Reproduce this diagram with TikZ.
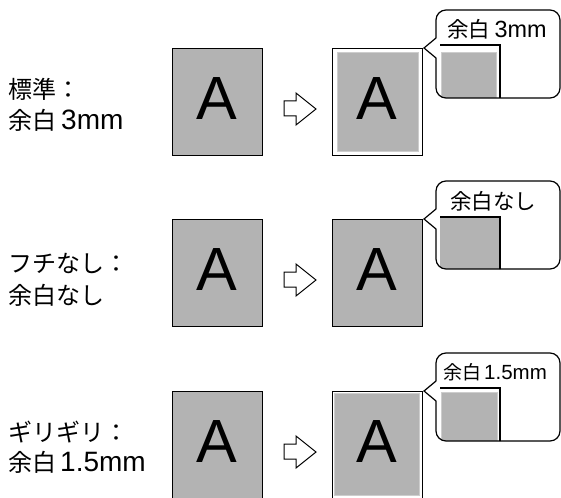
\documentclass[tikz,border=0pt]{standalone}
\usepackage{fontspec}
\setmainfont{Liberation Sans}
\newfontfamily\cjk{Noto Sans CJK JP}
\definecolor{pgray}{RGB}{179,179,179}
\definecolor{lgray}{RGB}{205,205,205}
\newcommand{\jL}{\cjk\fontsize{24}{28}\selectfont}
\newcommand{\eL}{\rmfamily\fontsize{28}{28}\selectfont}
\newcommand{\jC}{\cjk\fontsize{21.5}{26}\selectfont}
\newcommand{\eC}{\rmfamily\fontsize{23.4}{26}\selectfont}
\newcommand{\jS}{\cjk\fontsize{19}{24}\selectfont}
\newcommand{\eS}{\rmfamily\fontsize{20.5}{24}\selectfont}
\begin{document}
\begin{tikzpicture}[x=1pt,y=-1pt,
  page/.style={draw=black, line width=1.3pt, fill=pgray, minimum width=90pt, minimum height=107pt, inner sep=0pt, anchor=north west},
  wpage/.style={page, fill=white},
  letter/.style={font=\rmfamily\fontsize{61}{61}\selectfont, inner sep=0pt},
  lbl/.style={anchor=base west, inner sep=0pt},
  arrowshape/.style={draw=black, line width=1pt, fill=white, line join=miter},
  callbox/.style={rounded corners=10pt},
  inner/.style={fill=pgray, draw=lgray, line width=0.8pt},
  ell/.style={draw=black, line width=1.2pt}
]
\useasboundingbox (0,0) rectangle (561,497);
\clip (0,0) rectangle (561,497);

% ---------- Row 1 ----------
\begin{scope}[shift={(0,48)}]
  \node[page] (L1) at (172,0) {};
  \node[letter] (LA1) at (217,51) {A};
  \draw[arrowshape] (284,53) -- (296,53) -- (296,45) -- (316,61) -- (296,77) -- (296,68) -- (284,68) -- cycle;
  \node[wpage] (R1) at (332,0) {};
  \fill[inner] (337,4.5) rectangle (418,103.5);
  \node[letter] (RA1) at (377,51) {A};
  % callout
  \fill[white, callbox] (436,-38) rectangle (560,50);
  \begin{scope}
    \clip[callbox] (436,-38) rectangle (560,50);
    \fill[inner] (441.5,4) rectangle (496,60);
    \draw[ell] (440,-3) -- (500,-3) -- (500,60);
  \end{scope}
  \draw[line width=1.2pt, callbox] (436,-38) rectangle (560,50);
  \fill[white] (437.5,-10.5) -- (424,0) -- (437.5,10.5) -- cycle;
  \draw[line width=1.2pt, line join=miter] (436,-10) -- (424,0) -- (436,10);
  \node[lbl] (C1) at (447,-10) {{\jC 余白}\hspace{4.5pt}{\eC 3mm}};
\end{scope}
\node[lbl] (T1a) at (8,99) {\jL 標準：};
\node[lbl] (T1b) at (8,130) {{\jL 余白}\hspace{5pt}{\eL 3mm}};

% ---------- Row 2 ----------
\begin{scope}[shift={(0,219)}]
  \node[page] (L2) at (172,0) {};
  \node[letter] (LA2) at (217,51) {A};
  \draw[arrowshape] (284,53) -- (296,53) -- (296,45) -- (316,61) -- (296,77) -- (296,68) -- (284,68) -- cycle;
  \node[page] (R2) at (332,0) {};
  \node[letter] (RA2) at (377,51) {A};
  \fill[white, callbox] (436,-38) rectangle (560,50);
  \begin{scope}
    \clip[callbox] (436,-38) rectangle (560,50);
    \fill[pgray] (440,-2) rectangle (500,60);
    \draw[ell] (440,-2) -- (500,-2) -- (500,60);
  \end{scope}
  \draw[line width=1.2pt, callbox] (436,-38) rectangle (560,50);
  \fill[white] (437.5,-10.5) -- (424,0) -- (437.5,10.5) -- cycle;
  \draw[line width=1.2pt, line join=miter] (436,-10) -- (424,0) -- (436,10);
  \node[lbl] (C2) at (450,-10) {\jC 余白なし};
\end{scope}
\node[lbl] (T2a) at (8,272) {\jL フチなし：};
\node[lbl] (T2b) at (8,304) {\jL 余白なし};

% ---------- Row 3 ----------
\begin{scope}[shift={(0,391)}]
  \node[page] (L3) at (172,0) {};
  \node[letter] (LA3) at (217,51) {A};
  \draw[arrowshape] (284,53) -- (296,53) -- (296,45) -- (316,61) -- (296,77) -- (296,68) -- (284,68) -- cycle;
  \node[wpage] (R3) at (332,0) {};
  \fill[inner] (334.5,2.5) rectangle (419.5,104.5);
  \node[letter] (RA3) at (377,51) {A};
  \fill[white, callbox] (436,-38) rectangle (560,50);
  \begin{scope}
    \clip[callbox] (436,-38) rectangle (560,50);
    \fill[inner] (441.5,1) rectangle (497,60);
    \draw[ell] (440,-3) -- (500,-3) -- (500,60);
  \end{scope}
  \draw[line width=1.2pt, callbox] (436,-38) rectangle (560,50);
  \fill[white] (437.5,-10.5) -- (424,0) -- (437.5,10.5) -- cycle;
  \draw[line width=1.2pt, line join=miter] (436,-10) -- (424,0) -- (436,10);
  \node[lbl] (C3) at (443,-12) {{\jS 余白}\hspace{3pt}{\eS 1.5mm}};
\end{scope}
\node[lbl] (T3a) at (8,441) {\jL ギリギリ：};
\node[lbl] (T3b) at (8,471) {{\jL 余白}\hspace{4pt}{\eL 1.5mm}};
\end{tikzpicture}
\end{document}
